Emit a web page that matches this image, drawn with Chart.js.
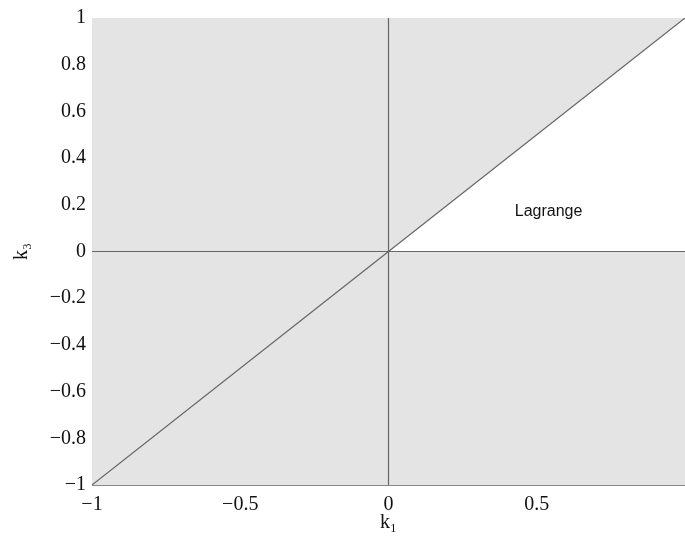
<!DOCTYPE html>
<html>
<head>
<meta charset="utf-8">
<script src="https://cdn.jsdelivr.net/npm/chart.js@4"></script>
<style>
  html, body { margin: 0; padding: 0; background: #fff; overflow: hidden; }
  #wrap { width: 685px; height: 539px; overflow: hidden; }
</style>
</head>
<body>
<div id="wrap"><canvas id="c" width="693" height="539"></canvas></div>
<script>
// boundaries of the regions (k1, k3)
const topEdge = [{x: -1, y: 1}, {x: 0, y: 1}, {x: 1, y: 1}];
const diagonal = [{x: -1, y: -1}, {x: 0, y: 0}, {x: 1, y: 1}];
const lowerEdge = [{x: -1, y: -1}, {x: 0, y: 0}, {x: 1, y: 0}];
const hLine = [{x: -1, y: 0}, {x: 1, y: 0}];
const vLine = [{x: 0, y: -1}, {x: 0, y: 1}];
const xTicks = [-1, -0.5, 0, 0.5, 1];
const yTicks = [-1, -0.8, -0.6, -0.4, -0.2, 0, 0.2, 0.4, 0.6, 0.8, 1];
const regionLabel = {text: 'Lagrange', x: 0.54, y: 0.17};

const fillGray = '#e4e4e4';
const lineGray = '#666';
const serif = "'Liberation Serif', 'Times New Roman', serif";

function fmt(v) {
  const s = String(Math.round(v * 10) / 10);
  return s.replace('-', '\u2212');
}

const labelPlugin = {
  id: 'regionLabel',
  afterDatasetsDraw(chart) {
    const {ctx, scales} = chart;
    ctx.save();
    ctx.font = "16px 'Liberation Sans', Arial, sans-serif";
    ctx.fillStyle = '#111';
    ctx.textAlign = 'center';
    ctx.textBaseline = 'middle';
    ctx.fillText(regionLabel.text, scales.x.getPixelForValue(regionLabel.x), scales.y.getPixelForValue(regionLabel.y));
    ctx.restore();
  }
};

new Chart(document.getElementById('c').getContext('2d'), {
  type: 'line',
  data: {
    datasets: [
      { data: topEdge, borderWidth: 0, pointRadius: 0, fill: 1, backgroundColor: fillGray, order: 10 },
      { data: diagonal, borderWidth: 0, pointRadius: 0, fill: false, order: 11 },
      { data: lowerEdge, borderWidth: 0, pointRadius: 0, fill: 'start', backgroundColor: fillGray, order: 10 },
      { data: diagonal, borderWidth: 1.2, borderColor: lineGray, pointRadius: 0, fill: false, order: 0 },
      { data: hLine, borderWidth: 1.2, borderColor: lineGray, pointRadius: 0, fill: false, order: 0 },
      { data: vLine, borderWidth: 1.2, borderColor: lineGray, pointRadius: 0, fill: false, order: 0 }
    ]
  },
  options: {
    responsive: false,
    animation: false,
    parsing: false,
    layout: { padding: { top: 15, right: 0, left: 0, bottom: 0 } },
    plugins: { legend: { display: false }, tooltip: { enabled: false } },
    scales: {
      x: {
        type: 'linear', min: -1, max: 1,
        afterBuildTicks: s => { s.ticks = xTicks.map(v => ({value: v})); },
        afterFit: s => { s.height = 54; },
        grid: { display: false, drawTicks: false },
        border: { display: true, color: '#888', width: 1 },
        ticks: {
          padding: 8, color: '#111', maxRotation: 0,
          font: { family: serif, size: 20 },
          callback: v => v === 1 ? '' : fmt(v)
        },
        title: { display: true, text: 'k\u2081', color: '#111', padding: { top: 0, bottom: 4 },
          font: { family: serif, size: 20 } }
      },
      y: {
        type: 'linear', min: -1, max: 1,
        afterBuildTicks: s => { s.ticks = yTicks.map(v => ({value: v})); },
        afterFit: s => { s.width = 92; },
        grid: { display: false, drawTicks: false },
        border: { display: true, color: '#888', width: 1 },
        ticks: {
          padding: 6, color: '#111',
          font: { family: serif, size: 20 },
          callback: v => fmt(v)
        },
        title: { display: true, text: 'k\u2083', color: '#111', padding: { top: 10, bottom: 0 },
          font: { family: serif, size: 20 } }
      }
    }
  },
  plugins: [labelPlugin]
});
</script>
</body>
</html>
